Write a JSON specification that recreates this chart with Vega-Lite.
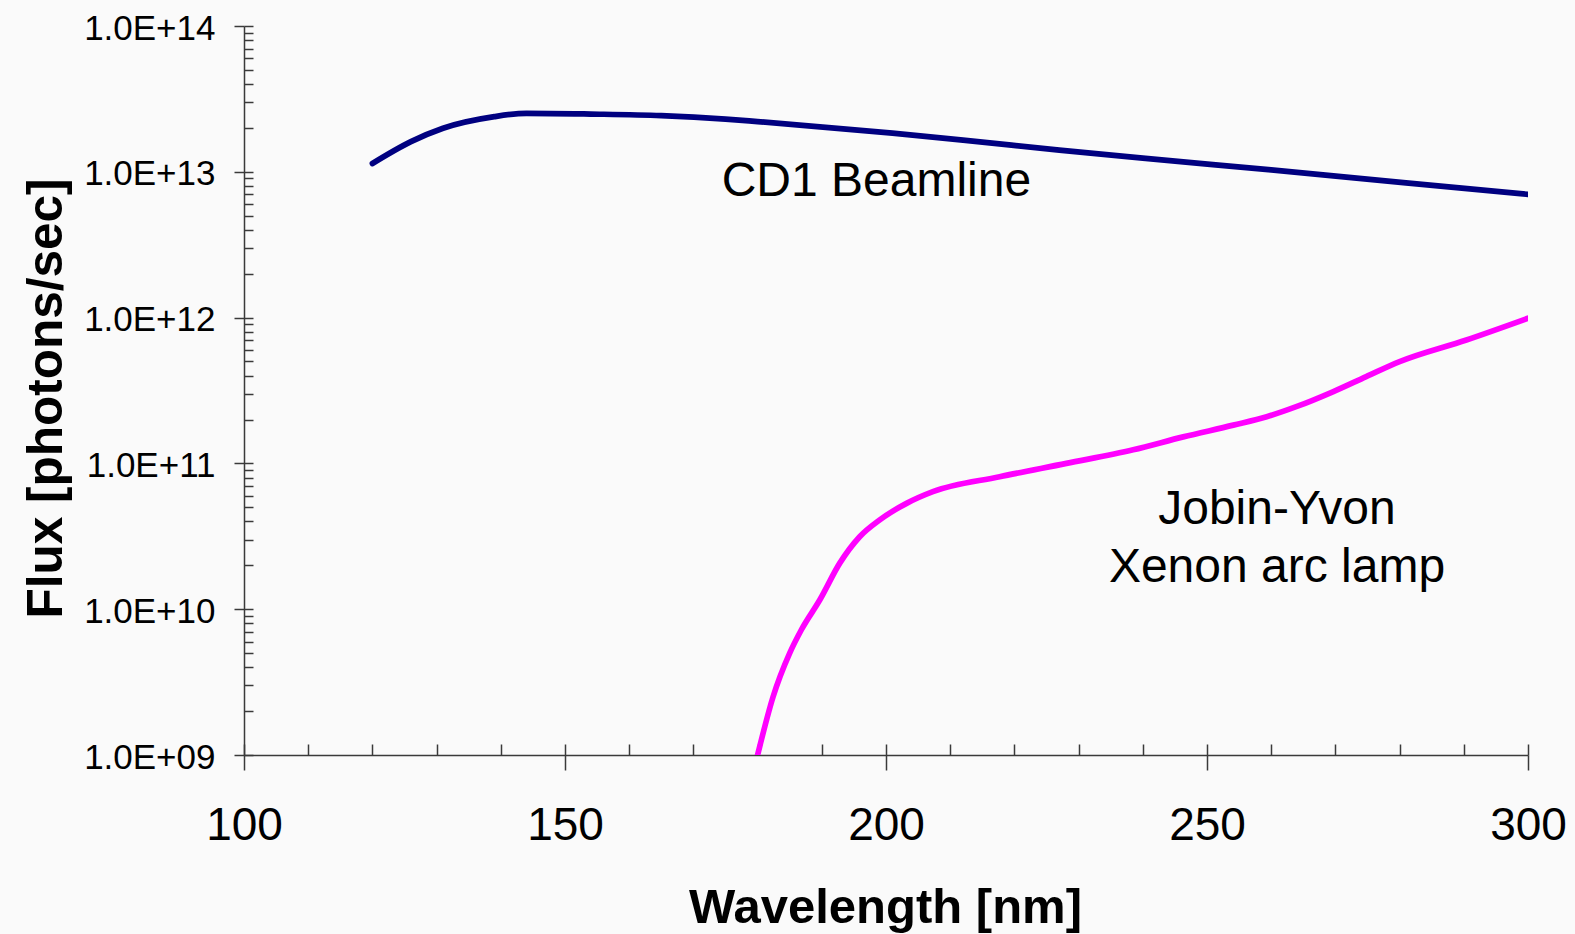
{
  "$schema": "https://vega.github.io/schema/vega-lite/v6.json",
  "width": 1284,
  "height": 729,
  "autosize": "none",
  "padding": {"left": 244, "top": 26, "right": 47, "bottom": 179},
  "background": "#fafafa",
  "config": {
    "view": {"stroke": null},
    "axis": {
      "grid": false,
      "domainColor": "#3a3a3a",
      "domainWidth": 1.5,
      "tickColor": "#3a3a3a",
      "tickWidth": 1.5,
      "labelFont": "Liberation Sans",
      "titleFont": "Liberation Sans",
      "labelColor": "#000000",
      "titleColor": "#000000"
    }
  },
  "datasets": {
    "flux": [
      {"wavelength": 120, "flux": 1.14e13, "source": "CD1 Beamline"},
      {"wavelength": 126, "flux": 1.61e13, "source": "CD1 Beamline"},
      {"wavelength": 131, "flux": 1.99e13, "source": "CD1 Beamline"},
      {"wavelength": 139, "flux": 2.39e13, "source": "CD1 Beamline"},
      {"wavelength": 144, "flux": 2.52e13, "source": "CD1 Beamline"},
      {"wavelength": 154, "flux": 2.49e13, "source": "CD1 Beamline"},
      {"wavelength": 165, "flux": 2.43e13, "source": "CD1 Beamline"},
      {"wavelength": 175, "flux": 2.30e13, "source": "CD1 Beamline"},
      {"wavelength": 180, "flux": 2.21e13, "source": "CD1 Beamline"},
      {"wavelength": 201, "flux": 1.84e13, "source": "CD1 Beamline"},
      {"wavelength": 212, "flux": 1.65e13, "source": "CD1 Beamline"},
      {"wavelength": 227, "flux": 1.41e13, "source": "CD1 Beamline"},
      {"wavelength": 240, "flux": 1.24e13, "source": "CD1 Beamline"},
      {"wavelength": 260, "flux": 1.03e13, "source": "CD1 Beamline"},
      {"wavelength": 281, "flux": 8.4e12, "source": "CD1 Beamline"},
      {"wavelength": 300, "flux": 7.0e12, "source": "CD1 Beamline"},
      {"wavelength": 180, "flux": 1.0e9, "source": "Jobin-Yvon Xenon arc lamp"},
      {"wavelength": 182.4, "flux": 2.5e9, "source": "Jobin-Yvon Xenon arc lamp"},
      {"wavelength": 185, "flux": 5.0e9, "source": "Jobin-Yvon Xenon arc lamp"},
      {"wavelength": 186.8, "flux": 7.2e9, "source": "Jobin-Yvon Xenon arc lamp"},
      {"wavelength": 189.7, "flux": 1.16e10, "source": "Jobin-Yvon Xenon arc lamp"},
      {"wavelength": 192.8, "flux": 2.07e10, "source": "Jobin-Yvon Xenon arc lamp"},
      {"wavelength": 195.9, "flux": 3.14e10, "source": "Jobin-Yvon Xenon arc lamp"},
      {"wavelength": 199, "flux": 4.09e10, "source": "Jobin-Yvon Xenon arc lamp"},
      {"wavelength": 203.2, "flux": 5.32e10, "source": "Jobin-Yvon Xenon arc lamp"},
      {"wavelength": 207.3, "flux": 6.4e10, "source": "Jobin-Yvon Xenon arc lamp"},
      {"wavelength": 217.7, "flux": 8.1e10, "source": "Jobin-Yvon Xenon arc lamp"},
      {"wavelength": 228.1, "flux": 1.0e11, "source": "Jobin-Yvon Xenon arc lamp"},
      {"wavelength": 238.5, "flux": 1.24e11, "source": "Jobin-Yvon Xenon arc lamp"},
      {"wavelength": 246.3, "flux": 1.52e11, "source": "Jobin-Yvon Xenon arc lamp"},
      {"wavelength": 254.1, "flux": 1.83e11, "source": "Jobin-Yvon Xenon arc lamp"},
      {"wavelength": 259.3, "flux": 2.09e11, "source": "Jobin-Yvon Xenon arc lamp"},
      {"wavelength": 263.9, "flux": 2.45e11, "source": "Jobin-Yvon Xenon arc lamp"},
      {"wavelength": 269.6, "flux": 3.1e11, "source": "Jobin-Yvon Xenon arc lamp"},
      {"wavelength": 274.8, "flux": 3.94e11, "source": "Jobin-Yvon Xenon arc lamp"},
      {"wavelength": 280, "flux": 4.99e11, "source": "Jobin-Yvon Xenon arc lamp"},
      {"wavelength": 290.4, "flux": 7.02e11, "source": "Jobin-Yvon Xenon arc lamp"},
      {"wavelength": 300, "flux": 9.9e11, "source": "Jobin-Yvon Xenon arc lamp"}
    ],
    "notes": [
      {"wavelength": 198.5, "flux": 8.96e12, "label": "CD1 Beamline"},
      {"wavelength": 260.9, "flux": 5.02e10, "label": "Jobin-Yvon"},
      {"wavelength": 260.9, "flux": 2.0e10, "label": "Xenon arc lamp"}
    ]
  },
  "layer": [
    {
      "data": {"name": "flux"},
      "mark": {"type": "line", "strokeWidth": 5.7, "strokeCap": "round", "interpolate": "monotone", "clip": true},
      "encoding": {
        "x": {
          "field": "wavelength",
          "type": "quantitative",
          "scale": {"domain": [100, 300], "nice": false, "zero": false},
          "axis": {
            "orient": "bottom",
            "values": [100, 150, 200, 250, 300],
            "tickSize": 15,
            "labelPadding": 33,
            "labelFontSize": 46,
            "labelFlush": false,
            "title": "Wavelength [nm]",
            "titleFontSize": 49,
            "titleFontWeight": "bold",
            "titleBaseline": "alphabetic",
            "titleX": 641,
            "titleY": 167
          }
        },
        "y": {
          "field": "flux",
          "type": "quantitative",
          "scale": {"type": "log", "domain": [1e9, 1e14], "nice": false},
          "axis": {
            "orient": "left",
            "values": [1e9, 1e10, 1e11, 1e12, 1e13, 1e14],
            "labelExpr": "'1.0E+' + (round(log(datum.value) / LN10) < 10 ? '0' : '') + round(log(datum.value) / LN10)",
            "tickSize": 10,
            "labelPadding": 19,
            "labelOffset": 2,
            "labelFontSize": 35,
            "labelFlush": false,
            "title": "Flux [photons/sec]",
            "titleFontSize": 49.5,
            "titleFontWeight": "bold",
            "titleBaseline": "alphabetic",
            "titleX": -183,
            "titleY": 372
          }
        },
        "color": {
          "field": "source",
          "type": "nominal",
          "scale": {"domain": ["CD1 Beamline", "Jobin-Yvon Xenon arc lamp"], "range": ["#000080", "#ff00ff"]},
          "legend": null
        }
      }
    },
    {
      "data": {"name": "notes"},
      "mark": {"type": "text", "font": "Liberation Sans", "fontSize": 48, "color": "#000000", "align": "center", "baseline": "middle", "dy": 3},
      "encoding": {
        "x": {
          "field": "wavelength",
          "type": "quantitative",
          "axis": {
            "orient": "bottom",
            "values": [100, 110, 120, 130, 140, 150, 160, 170, 180, 190, 200, 210, 220, 230, 240, 250, 260, 270, 280, 290, 300],
            "tickSize": -11,
            "labels": false,
            "domain": false,
            "title": null
          }
        },
        "y": {
          "field": "flux",
          "type": "quantitative",
          "axis": {
            "orient": "left",
            "values": [1e9, 2e9, 3e9, 4e9, 5e9, 6e9, 7e9, 8e9, 9e9, 1e10, 2e10, 3e10, 4e10, 5e10, 6e10, 7e10, 8e10, 9e10, 1e11, 2e11, 3e11, 4e11, 5e11, 6e11, 7e11, 8e11, 9e11, 1e12, 2e12, 3e12, 4e12, 5e12, 6e12, 7e12, 8e12, 9e12, 1e13, 2e13, 3e13, 4e13, 5e13, 6e13, 7e13, 8e13, 9e13, 1e14],
            "tickSize": -9,
            "labels": false,
            "domain": false,
            "title": null
          }
        },
        "text": {"field": "label", "type": "nominal"}
      }
    }
  ],
  "resolve": {"axis": {"x": "independent", "y": "independent"}}
}
